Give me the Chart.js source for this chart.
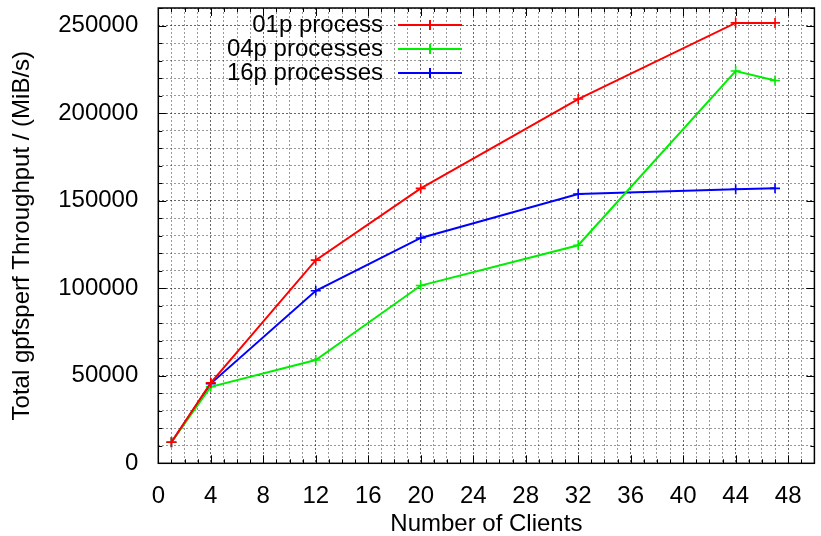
<!DOCTYPE html>
<html>
<head>
<meta charset="utf-8">
<script src="https://cdn.jsdelivr.net/npm/chart.js@4.4.0/dist/chart.umd.min.js"></script>
<style>
    html, body { margin: 0; padding: 0; background: #fff; }
    #wrap { width: 821px; height: 536px; }
</style>
</head>
<body>
<div id="wrap"><canvas id="lineChart"></canvas></div>
<script>
// data
const clients = [1, 4, 12, 20, 32, 44, 47];
const proc01 = [12000, 46000, 116000, 157000, 208000, 251500, 251500];
const proc04 = [12000, 43700, 59000, 101500, 124500, 224000, 218600];
const proc16 = [12000, 45500, 98500, 128700, 153800, 156500, 157000];
const xLabelStep = 4;
const yLabelStep = 50000;

const FONT = 'Liberation Sans, Arial, sans-serif';

function pts(ys) {
    return clients.map((x, i) => ({ x: x, y: ys[i] }));
}

function noPad(scale) {
    scale.paddingLeft = 0;
    scale.paddingRight = 0;
    scale.paddingTop = 0;
    scale.paddingBottom = 0;
}

// gnuplot style frame with inward ticks and a legend at the top left
const framePlugin = {
    id: 'frame',
    afterDraw(chart) {
        const ctx = chart.ctx;
        const a = chart.chartArea;
        const xs = chart.scales.x;
        const ys = chart.scales.y;
        ctx.save();
        ctx.strokeStyle = '#000';
        ctx.lineWidth = 1;
        xs.ticks.forEach(t => {
            const px = Math.round(xs.getPixelForValue(t.value)) + 0.5;
            const len = t.value % xLabelStep === 0 ? 8 : 4;
            ctx.beginPath();
            ctx.moveTo(px, a.bottom); ctx.lineTo(px, a.bottom - len);
            ctx.moveTo(px, a.top); ctx.lineTo(px, a.top + len);
            ctx.stroke();
        });
        ys.ticks.forEach(t => {
            const py = Math.round(ys.getPixelForValue(t.value)) + 0.5;
            const len = t.value % yLabelStep === 0 ? 8 : 4;
            ctx.beginPath();
            ctx.moveTo(a.left, py); ctx.lineTo(a.left + len, py);
            ctx.moveTo(a.right, py); ctx.lineTo(a.right - len, py);
            ctx.stroke();
        });
        ctx.lineWidth = 1.5;
        ctx.strokeRect(a.left, a.top, a.right - a.left, a.bottom - a.top);

        // legend
        ctx.font = '24px ' + FONT;
        ctx.textAlign = 'right';
        ctx.textBaseline = 'middle';
        chart.data.datasets.forEach((ds, i) => {
            const y = 25 + i * 24;
            ctx.fillStyle = '#000';
            ctx.fillText(ds.label, 383, y);
            ctx.strokeStyle = ds.borderColor;
            ctx.lineWidth = 2;
            ctx.beginPath();
            ctx.moveTo(398, y); ctx.lineTo(462, y);
            ctx.moveTo(430, y - 5); ctx.lineTo(430, y + 5);
            ctx.stroke();
        });
        ctx.restore();
    }
};

function makeSet(label, ys, color) {
    return {
        label: label,
        data: pts(ys),
        borderColor: color,
        backgroundColor: color,
        borderWidth: 2,
        pointStyle: 'cross',
        pointRadius: 5,
        pointBorderWidth: 1.6,
        fill: false,
        tension: 0,
    };
}

const ctxLine = document.getElementById('lineChart').getContext('2d');

const lineChart = new Chart(ctxLine, {
    type: 'line',
    data: {
        datasets: [
            makeSet('01p process', proc01, '#ff0000'),
            makeSet('04p processes', proc04, '#00ee00'),
            makeSet('16p processes', proc16, '#0000ff'),
        ],
    },
    options: {
        responsive: true,
        maintainAspectRatio: false,
        animation: false,
        layout: { padding: { top: 8, right: 1.5, left: 0, bottom: 0 } },
        plugins: {
            legend: { display: false },
            tooltip: { enabled: false },
        },
        scales: {
            x: {
                type: 'linear',
                min: 0,
                max: 50,
                afterFit: function (scale) { scale.height = 72.7; noPad(scale); },
                ticks: {
                    stepSize: 1,
                    autoSkip: false,
                    maxRotation: 0,
                    padding: 19,
                    color: '#000',
                    font: { family: FONT, size: 24 },
                    callback: function (v) { return v % xLabelStep === 0 ? String(v) : ''; }
                },
                grid: {
                    drawTicks: false,
                    color: function (c) {
                        return c.tick && c.tick.value % xLabelStep === 0 ? 'rgba(0,0,0,0.6)' : 'rgba(0,0,0,0.4)';
                    },
                    lineWidth: 1,
                },
                border: { display: false, dash: [2, 2] },
                title: {
                    display: true,
                    text: 'Number of Clients',
                    color: '#000',
                    font: { family: FONT, size: 24, lineHeight: 1.0 },
                    padding: { top: 0, bottom: 0 },
                },
            },
            y: {
                min: 0,
                max: 260000,
                afterFit: function (scale) { scale.width = 158.3; noPad(scale); },
                ticks: {
                    stepSize: 10000,
                    autoSkip: false,
                    padding: 20,
                    color: '#000',
                    font: { family: FONT, size: 24 },
                    callback: function (v) { return v % yLabelStep === 0 ? String(v) : ''; }
                },
                grid: {
                    drawTicks: false,
                    color: function (c) {
                        return c.tick && c.tick.value % yLabelStep === 0 ? 'rgba(0,0,0,0.6)' : 'rgba(0,0,0,0.4)';
                    },
                    lineWidth: 1,
                },
                border: { display: false, dash: [2, 2] },
                title: {
                    display: true,
                    text: 'Total gpfsperf Throughput / (MiB/s)',
                    color: '#000',
                    font: { family: FONT, size: 24, lineHeight: 1.0 },
                    padding: { top: 10, bottom: 0 },
                },
            }
        }
    },
    plugins: [framePlugin]
});
</script>
</body>
</html>
